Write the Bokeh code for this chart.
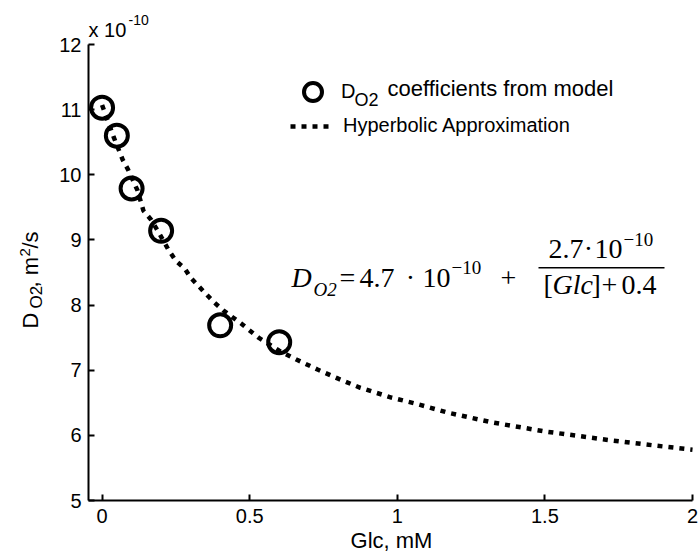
from bokeh.plotting import figure
from bokeh.models import Label, Range1d, Legend, LegendItem, BoxAnnotation, FixedTicker
from bokeh.embed import file_html
from bokeh.resources import INLINE

# ---- data (D in units of 1e-10 m^2/s) ----
glc_model = [0.0, 0.05, 0.10, 0.20, 0.40, 0.60]
d_model = [11.03, 10.60, 9.79, 9.14, 7.69, 7.43]

curve_glc = [0.0, 0.04, 0.07, 0.088, 0.12, 0.14, 0.166, 0.19, 0.226, 0.25, 0.28,
             0.30, 0.325, 0.35, 0.38, 0.41, 0.47, 0.53, 0.60, 0.66, 0.73, 0.80,
             0.875, 0.98, 1.06, 1.17, 1.32, 1.50, 1.73, 1.88, 2.0]
curve_d = [11.07, 10.57, 10.23, 10.08, 9.76, 9.45, 9.31, 9.13, 8.84, 8.68, 8.56,
           8.42, 8.30, 8.18, 8.04, 7.92, 7.72, 7.50, 7.30, 7.16, 7.01, 6.87,
           6.73, 6.58, 6.49, 6.35, 6.20, 6.06, 5.92, 5.84, 5.78]

x_ticks = [0, 0.5, 1, 1.5, 2]
y_ticks = [5, 6, 7, 8, 9, 10, 11, 12]
x_tick_labels = {0: "0", 0.5: "0.5", 1: "1", 1.5: "1.5", 2: "2"}

# axis extents of the chart
AX0, AX1 = -0.046, 2.0
AY0, AY1 = 5.0, 12.0

W, H = 700, 553
# where the axis box sits on the canvas (pixels)
FL, FR, FT, FB = 88, 692, 44, 500

SANS = "Liberation Sans"
SERIF = "Liberation Serif"

# the plotting frame covers the whole canvas; ranges are widened so that the
# axis box lands at FL..FR / FT..FB
kx = (AX1 - AX0) / (FR - FL)
ky = (AY1 - AY0) / (FB - FT)
x_range = Range1d(AX0 - FL * kx, AX1 + (W - FR) * kx)
y_range = Range1d(AY0 - (H - FB) * ky, AY1 + FT * ky)


def to_data(xp, yp):
    """Convert a canvas pixel position to data coordinates (for text placement)."""
    return AX0 + (xp - FL) * kx, AY1 - (yp - FT) * ky


p = figure(width=W, height=H, x_range=x_range, y_range=y_range, title=None,
           output_backend="svg", toolbar_location=None,
           min_border_left=0, min_border_right=0, min_border_top=0, min_border_bottom=0)
p.outline_line_color = None
p.xgrid.visible = False
p.ygrid.visible = False
p.background_fill_color = "white"
p.border_fill_color = "white"

for ax in (p.xaxis[0], p.yaxis[0]):
    ax.axis_line_width = 2
    ax.axis_line_color = "black"
    ax.major_tick_line_width = 2
    ax.major_tick_line_color = "black"
    ax.major_tick_in = 6
    ax.major_tick_out = 0
    ax.minor_tick_line_color = None
    ax.major_label_text_font = SANS
    ax.major_label_text_font_size = "20px"
    ax.major_label_text_color = "black"

p.xaxis.fixed_location = AY0
p.xaxis.bounds = (AX0, AX1)
p.xaxis.ticker = FixedTicker(ticks=x_ticks)
p.xaxis.major_label_overrides = x_tick_labels
p.xaxis.major_label_standoff = 8
p.yaxis.fixed_location = AX0
p.yaxis.bounds = (AY0, AY1)
p.yaxis.ticker = FixedTicker(ticks=y_ticks)
p.yaxis.major_label_standoff = 7

# ---- glyphs ----
curve = p.line(curve_glc, curve_d, line_color="black", line_width=4.5,
               line_dash="5 6", line_cap="butt")
pts = p.scatter(glc_model, d_model, marker="circle", size=22, fill_color=None,
                line_color="black", line_width=4)

legend_style = dict(orientation="vertical", padding=0, margin=0, border_line_color=None,
                    background_fill_alpha=0, label_text_font=SANS,
                    label_text_font_size="20px", label_text_color="black",
                    label_text_baseline="middle")
legend_pts = Legend(items=[LegendItem(label="D", renderers=[pts])],
                    location=(290, H - 114), glyph_width=45, glyph_height=45,
                    label_standoff=6, **legend_style)
legend_line = Legend(items=[LegendItem(label="Hyperbolic Approximation", renderers=[curve])],
                     location=(290, H - 137), glyph_width=40, glyph_height=20,
                     label_standoff=13, **legend_style)
p.add_layout(legend_pts, "center")
p.add_layout(legend_line, "center")

ANG = 1.5707963


def lab(text, xp, yp, size, font=SANS, style="normal", angle=0.0, align="left"):
    # the renderer draws alphabetic-baseline text about 0.38 em low: compensate
    shift = 0.38 * size
    if angle:
        xp -= shift
    else:
        yp -= shift
    x, y = to_data(xp, yp)
    p.add_layout(Label(x=x, y=y, text=text, text_font=font, text_font_size=f"{size}px",
                       text_font_style=style, text_color="black", angle=angle,
                       text_align=align, text_baseline="alphabetic"))


# legend subscript and rest of the first legend label
lab("O2", 354, 106, 18)
lab("coefficients from model", 387, 96, 22)

# exponent label above the y axis
lab("x 10", 88, 37, 20)
lab("-10", 128, 25, 14)

# y axis label (rotated)
lab("D", 38, 328, 22, angle=ANG)
lab("O2", 42, 308, 17, angle=ANG)
lab(", m", 38, 287, 22, angle=ANG)
lab("2", 30, 256, 15, angle=ANG)
lab("/s", 38, 248, 22, angle=ANG)

# x axis label
lab("Glc, mM", 391, 548, 22, align="center")

# formula
lab("D", 291, 288, 28, SERIF, "italic")
lab("O2", 313, 296, 19, SERIF, "italic")
lab("=", 339, 288, 28, SERIF)
lab("4.7", 359, 288, 28, SERIF)
lab("\u00b7", 410, 288, 28, SERIF, align="center")
lab("10", 422, 288, 28, SERIF)
lab("\u221210", 451, 274, 19, SERIF)
lab("+", 500, 288, 28, SERIF)
lab("2.7", 548, 259, 28, SERIF)
lab("\u00b7", 588, 259, 28, SERIF, align="center")
lab("10", 594, 259, 28, SERIF)
lab("\u221210", 623, 246, 19, SERIF)
lab("[", 543, 295, 28, SERIF)
lab("Glc", 552, 295, 28, SERIF, "italic")
lab("]", 591, 295, 28, SERIF)
lab("+", 601, 295, 28, SERIF)
lab("0.4", 621, 295, 28, SERIF)
bl, bt = to_data(538, 266.5)
br, bb = to_data(664, 268.0)
p.add_layout(BoxAnnotation(left=bl, right=br, top=bt, bottom=bb, fill_color="black",
                           fill_alpha=1, line_color=None))

open("out.html", "w").write(file_html(p, INLINE))
